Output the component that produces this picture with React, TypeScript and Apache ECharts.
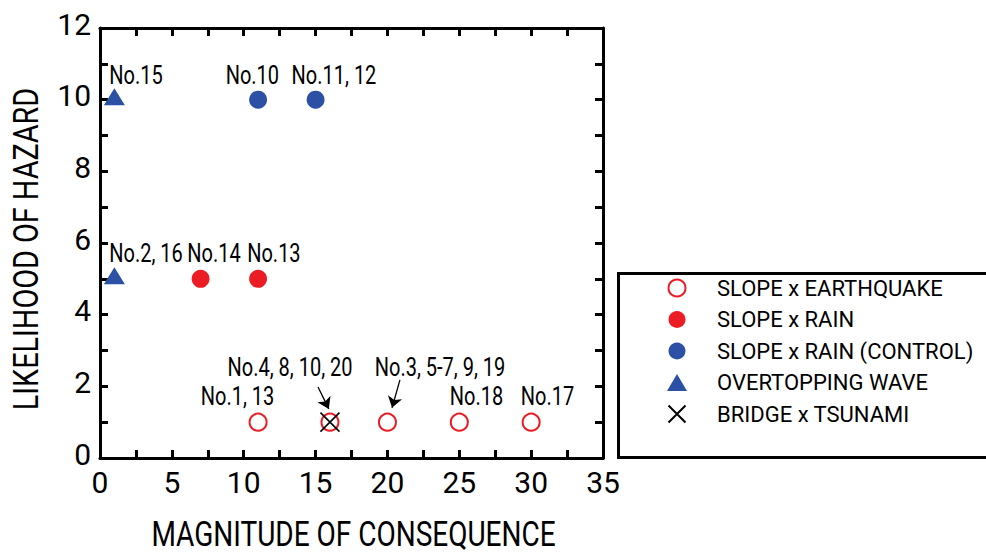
import React, { useEffect, useRef } from "react";
import * as echarts from "echarts";

const FONT = 'Roboto, "Liberation Sans", sans-serif';
const CONDENSE = 0.8;
const RED = "#ec1c24";
const BLUE = "#2b50a4";

const xTitle = "MAGNITUDE OF CONSEQUENCE";
const yTitle = "LIKELIHOOD OF HAZARD";

const seriesNames = [
  "SLOPE x EARTHQUAKE",
  "SLOPE x RAIN",
  "SLOPE x RAIN (CONTROL)",
  "OVERTOPPING WAVE",
  "BRIDGE x TSUNAMI",
];

const earthquakeX = [11, 16, 20, 25, 30];
const earthquakeY = [1, 1, 1, 1, 1];
const rainX = [7, 11];
const rainY = [5, 5];
const controlX = [11, 15];
const controlY = [10, 10];
const waveX = [1, 1];
const waveY = [10, 5];
const tsunamiX = [16];
const tsunamiY = [1];

const noteTexts = [
  "No.15",
  "No.10",
  "No.11, 12",
  "No.2, 16",
  "No.14",
  "No.13",
  "No.4, 8, 10, 20",
  "No.3, 5-7, 9, 19",
  "No.1, 13",
  "No.18",
  "No.17",
];
const noteX = [2.5, 10.6, 16.28, 3.2, 7.93, 12.1, 13.22, 23.66, 9.57, 26.2, 31.14];
const noteY = [10.66, 10.66, 10.66, 5.69, 5.69, 5.69, 2.51, 2.51, 1.7, 1.7, 1.7];

const arrowFromX = [15.17, 20.87];
const arrowFromY = [1.98, 2.18];
const arrowToX = [15.92, 20.32];
const arrowToY = [1.37, 1.4];

const zip = (xs: number[], ys: number[]) => xs.map((x, i) => [x, ys[i]]);

export default function App() {
  const ref = useRef<HTMLDivElement>(null);
  useEffect(() => {
    if (!ref.current) return;
    const chart = echarts.init(ref.current, null, { renderer: "svg" });
    const axisLine = { show: true, onZero: false, lineStyle: { color: "#000", width: 3 } };
    const tick = { show: true, inside: true, length: 8, lineStyle: { color: "#000", width: 3 } };
    const minor = { show: true, splitNumber: 2, length: 8, lineStyle: { color: "#000", width: 3 } };
    const xBase = { type: "value", min: 0, max: 35, interval: 5, splitLine: { show: false }, axisLine, axisTick: tick, minorTick: minor };
    const yBase = { type: "value", min: 0, max: 12, interval: 2, splitLine: { show: false }, axisLine, axisTick: tick, minorTick: minor };
    const frame = {
      id: "legendFrame",
      type: "rect",
      shape: { x: 618.5, y: 273.5, width: 400, height: 184 },
      style: { fill: "none", stroke: "#000", lineWidth: 3 },
      silent: true,
      z: 10,
    };
    chart.setOption({
      animation: false,
      backgroundColor: "#fff",
      textStyle: { fontFamily: FONT },
      grid: { left: 100, top: 28, right: 383, bottom: 95, containLabel: false },
      xAxis: [
        {
          ...xBase,
          position: "bottom",
          axisLabel: { color: "#000", fontSize: 30, fontFamily: FONT, margin: 9 },
        },
        { ...xBase, position: "top", axisLabel: { show: false } },
      ],
      yAxis: [
        {
          ...yBase,
          position: "left",
          axisLabel: { color: "#000", fontSize: 30, fontFamily: FONT, margin: 9, verticalAlign: "bottom", lineHeight: 8 },
        },
        { ...yBase, position: "right", axisLabel: { show: false } },
      ],
      legend: {
        data: seriesNames,
        orient: "vertical",
        left: 667,
        top: 276,
        padding: 0,
        itemWidth: 20,
        itemHeight: 17,
        itemGap: 7.5,
        textStyle: { color: "#000", fontSize: 22, lineHeight: 24, fontFamily: FONT, padding: [0, 0, 0, 25] },
      },
      graphic: [frame],
      series: [
        {
          name: seriesNames[0],
          type: "scatter",
          data: zip(earthquakeX, earthquakeY),
          symbol: "circle",
          symbolSize: 17,
          itemStyle: { color: "#fff", borderColor: RED, borderWidth: 2, opacity: 1 },
          z: 3,
        },
        {
          name: seriesNames[1],
          type: "scatter",
          data: zip(rainX, rainY),
          symbol: "circle",
          symbolSize: 18,
          itemStyle: { color: RED, opacity: 1 },
          z: 3,
        },
        {
          name: seriesNames[2],
          type: "scatter",
          data: zip(controlX, controlY),
          symbol: "circle",
          symbolSize: 18,
          itemStyle: { color: BLUE, opacity: 1 },
          z: 3,
        },
        {
          name: seriesNames[3],
          type: "scatter",
          data: zip(waveX, waveY),
          symbol: "triangle",
          symbolSize: [21, 17],
          symbolOffset: [0, -3],
          itemStyle: { color: BLUE, opacity: 1 },
          z: 3,
        },
        {
          name: seriesNames[4],
          type: "scatter",
          data: zip(tsunamiX, tsunamiY),
          symbol: "path://M0,0L10,10M10,0L0,10",
          symbolSize: 19,
          itemStyle: { color: "#000", borderColor: "#000", borderWidth: 1.6, opacity: 1 },
          z: 4,
          markLine: {
            silent: true,
            symbol: ["none", "arrow"],
            symbolSize: 11,
            label: { show: false },
            itemStyle: { color: "#000" },
            lineStyle: { color: "#000", width: 1.3, type: "solid" },
            data: arrowFromX.map((x, i) => [
              { coord: [x, arrowFromY[i]] },
              { coord: [arrowToX[i], arrowToY[i]] },
            ]),
          },
        },
      ],
    });

    const px = (x: number, y: number) => chart.convertToPixel({ gridIndex: 0 }, [x, y]) as number[];
    const condensedText = (id: string, text: string, x: number, y: number, size: number, rotation = 0) => ({
      id,
      type: "text",
      x,
      y,
      rotation,
      scaleX: CONDENSE,
      silent: true,
      z: 10,
      style: {
        text,
        fill: "#000",
        font: `${size}px ${FONT}`,
        textAlign: "center",
        textVerticalAlign: "middle",
      },
    });
    const notes = noteTexts.map((t, i) => {
      const [x, y] = px(noteX[i], noteY[i]);
      return condensedText("note" + i, t, x, y, 25);
    });
    const [xMid, yBottom] = px(17.5, 0);
    const [xLeft, yMid] = px(0, 6);
    chart.setOption({
      graphic: [
        frame,
        condensedText("xTitle", xTitle, xMid + 2, yBottom + 76, 35),
        condensedText("yTitle", yTitle, xLeft - 74, yMid + 6, 36, Math.PI / 2),
        ...notes,
      ],
    });
    return () => chart.dispose();
  }, []);
  return <div ref={ref} style={{ position: "fixed", left: 0, top: 0, width: 986, height: 553 }} />;
}
